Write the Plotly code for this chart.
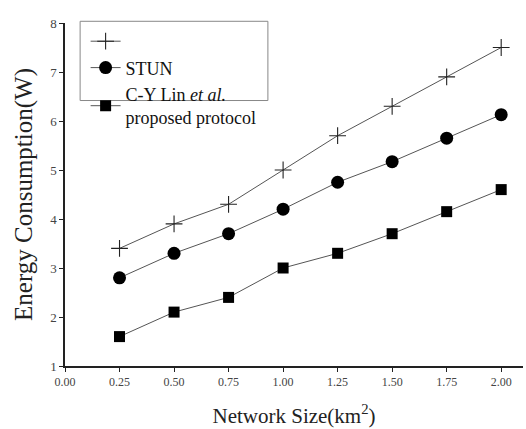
import plotly.graph_objects as go

x_vals = [0.25, 0.50, 0.75, 1.00, 1.25, 1.50, 1.75, 2.00]
plus_vals = [3.4, 3.9, 4.3, 5.0, 5.7, 6.3, 6.9, 7.5]
stun_vals = [2.8, 3.3, 3.7, 4.2, 4.75, 5.17, 5.65, 6.13]
lin_vals = [1.6, 2.1, 2.4, 3.0, 3.3, 3.7, 4.15, 4.6]
names = ["", "STUN", "C-Y Lin <i>et al.</i><br>proposed protocol"]

FONT = "Liberation Serif"
line_style = dict(color="#555555", width=1)

fig = go.Figure()
fig.add_trace(go.Scatter(x=x_vals, y=plus_vals, mode="lines+markers", name=names[0],
                         line=line_style,
                         marker=dict(symbol="cross-thin", size=12, color="#222",
                                     line=dict(color="#222", width=1.1))))
fig.add_trace(go.Scatter(x=x_vals, y=stun_vals, mode="lines+markers", name=names[1],
                         line=line_style,
                         marker=dict(symbol="circle", size=13, color="black")))
fig.add_trace(go.Scatter(x=x_vals, y=lin_vals, mode="lines+markers", name=names[2],
                         line=line_style,
                         marker=dict(symbol="square", size=11, color="black")))

# legend frame (shorter than the legend text, as in the reference)
fig.add_shape(type="rect", xref="paper", yref="paper",
              x0=0.033, x1=0.443, y0=0.774, y1=1.005,
              line=dict(color="#888", width=1), fillcolor="rgba(0,0,0,0)")

fig.update_layout(
    width=526, height=429,
    margin=dict(l=65, r=3, t=23, b=63),
    paper_bgcolor="white", plot_bgcolor="white",
    font=dict(family=FONT, color="#222"),
    showlegend=True,
    legend=dict(x=0.045, y=1.0, xanchor="left", yanchor="top",
                bgcolor="rgba(0,0,0,0)", borderwidth=0,
                font=dict(family=FONT, size=18, color="#111"),
                tracegroupgap=0, itemwidth=30),
    xaxis=dict(range=[0, 2.1], tickvals=[0, 0.25, 0.5, 0.75, 1.0, 1.25, 1.5, 1.75, 2.0],
               tickformat=".2f", showline=True, linecolor="#222", linewidth=1.5,
               ticks="outside", ticklen=4, tickcolor="#222", showgrid=False, zeroline=False,
               tickfont=dict(family=FONT, size=12, color="#444"),
               title=dict(text="Network Size(km<sup>2</sup>)", font=dict(family=FONT, size=21, color="#222"),
                          standoff=20)),
    yaxis=dict(range=[1, 8], dtick=1, showline=True, linecolor="#222", linewidth=1.5,
               ticks="outside", ticklen=4, tickcolor="#222", showgrid=False, zeroline=False,
               tickfont=dict(family=FONT, size=13, color="#444"),
               title=dict(text="Energy Consumption(W)", font=dict(family=FONT, size=25, color="#222"),
                          standoff=10)),
)

fig.write_html("out.html")
